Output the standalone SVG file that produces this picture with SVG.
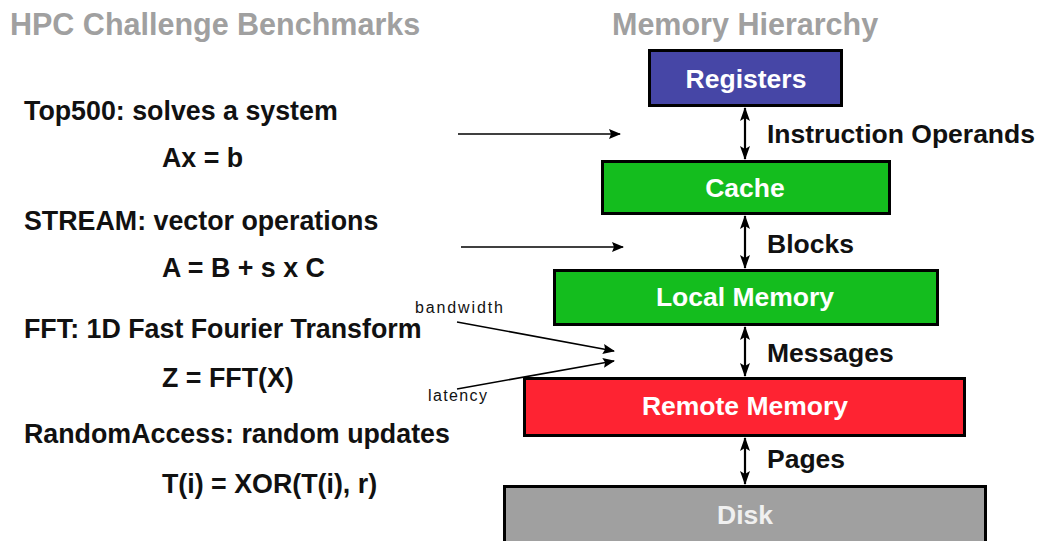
<svg xmlns="http://www.w3.org/2000/svg" width="1040" height="541" viewBox="0 0 1040 541">
<defs>
<style>
.title{font-family:"Liberation Sans",Arial,sans-serif;font-weight:bold;font-size:30.5px;fill:#a0a0a0}
.txt{font-family:"Liberation Sans",Arial,sans-serif;font-weight:bold;font-size:26.8px;fill:#111}
.lbl{font-family:"Liberation Sans",Arial,sans-serif;font-weight:bold;font-size:26.5px;fill:#111}
.box{stroke:#000;stroke-width:3}
.boxt{font-family:"Liberation Sans",Arial,sans-serif;font-weight:bold;font-size:26.5px;fill:#fff;text-anchor:middle}
.small{font-family:"Liberation Sans",Arial,sans-serif;font-size:16px;fill:#111}
.conn{stroke:#000;stroke-width:1.6;fill:none}
.vconn{stroke:#000;stroke-width:2.2;fill:none}
</style>
<marker id="ah" viewBox="0 0 12 10" refX="11" refY="5" markerWidth="12" markerHeight="10" markerUnits="userSpaceOnUse" orient="auto-start-reverse">
<path d="M0,0 L12,5 L0,10 L2,5 Z" fill="#000"/>
</marker>
<marker id="vh" viewBox="0 0 14 10" refX="13" refY="5" markerWidth="14" markerHeight="10" markerUnits="userSpaceOnUse" orient="auto-start-reverse">
<path d="M0,0 L14,5 L0,10 L3,5 Z" fill="#000"/>
</marker>
</defs>
<rect width="1040" height="541" fill="#fff"/>
<text class="title" x="10" y="35">HPC Challenge Benchmarks</text>
<text class="title" x="612" y="35">Memory Hierarchy</text>

<g id="benchmarks">
<text class="txt" x="24" y="120">Top500: solves a system</text>
<text class="txt" x="162" y="167">Ax = b</text>
<text class="txt" x="24" y="230">STREAM: vector operations</text>
<text class="txt" x="162" y="277">A = B + s x C</text>
<text class="txt" x="24" y="338">FFT: 1D Fast Fourier Transform</text>
<text class="txt" x="162" y="387">Z = FFT(X)</text>
<text class="txt" x="24" y="443">RandomAccess: random updates</text>
<text class="txt" x="162" y="493">T(i) = XOR(T(i), r)</text>
<text class="small" x="415" y="313" textLength="88" lengthAdjust="spacing">bandwidth</text>
<text class="small" x="428" y="401" textLength="59" lengthAdjust="spacing">latency</text>
</g>

<g id="registers">
<rect class="box" x="649.5" y="50.5" width="192" height="55" fill="#4646a6"/>
<text class="boxt" x="746" y="88">Registers</text>
</g>
<g id="cache">
<rect class="box" x="602.5" y="161.5" width="287" height="52" fill="#14bd1e"/>
<text class="boxt" x="745" y="197">Cache</text>
</g>
<g id="local-memory">
<rect class="box" x="554.5" y="270.5" width="383" height="54" fill="#14bd1e"/>
<text class="boxt" x="745" y="306">Local Memory</text>
</g>
<g id="remote-memory">
<rect class="box" x="524.5" y="378.5" width="440" height="57" fill="#fe2332"/>
<text class="boxt" x="745" y="415">Remote Memory</text>
</g>
<g id="disk">
<rect class="box" x="504.5" y="486.5" width="481" height="70" fill="#a0a0a0"/>
<text class="boxt" x="745" y="524" style="fill:#f0f0f0">Disk</text>
</g>

<g id="connectors">
<line class="vconn" x1="745" y1="108" x2="745" y2="159" marker-start="url(#vh)" marker-end="url(#vh)"/>
<line class="vconn" x1="745" y1="216" x2="745" y2="268" marker-start="url(#vh)" marker-end="url(#vh)"/>
<line class="vconn" x1="745" y1="327" x2="745" y2="376" marker-start="url(#vh)" marker-end="url(#vh)"/>
<line class="vconn" x1="745" y1="438" x2="745" y2="484" marker-start="url(#vh)" marker-end="url(#vh)"/>
<line class="conn" x1="458" y1="134" x2="620" y2="134" marker-end="url(#ah)"/>
<line class="conn" x1="461" y1="247" x2="623" y2="247" marker-end="url(#ah)"/>
<line class="conn" x1="457" y1="322" x2="614" y2="351" marker-end="url(#ah)"/>
<line class="conn" x1="457" y1="389" x2="614" y2="361" marker-end="url(#ah)"/>
</g>
<g id="labels">
<text class="lbl" x="767" y="143">Instruction Operands</text>
<text class="lbl" x="767" y="253">Blocks</text>
<text class="lbl" x="767" y="362">Messages</text>
<text class="lbl" x="767" y="468">Pages</text>
</g>
</svg>
